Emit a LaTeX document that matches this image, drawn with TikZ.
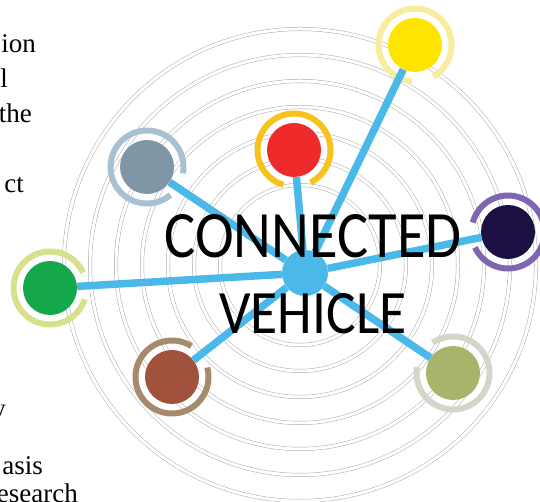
\documentclass[tikz,border=0pt]{standalone}
\usepackage{fontspec}
\usepackage{graphicx}
\setmainfont{Liberation Serif}
\newfontfamily\labelfont{Carlito}
\usetikzlibrary{positioning}
\definecolor{spokeblue}{HTML}{4AB9E9}
\definecolor{discyellow}{HTML}{FFE400}
\definecolor{haloyellow}{HTML}{F8EC9E}
\definecolor{discred}{HTML}{EE2A2B}
\definecolor{halored}{HTML}{F7C21B}
\definecolor{discgray}{HTML}{7F96A6}
\definecolor{halogray}{HTML}{A7C1D3}
\definecolor{discgreen}{HTML}{15A84A}
\definecolor{halogreen}{HTML}{D7E08B}
\definecolor{discbrown}{HTML}{A0523C}
\definecolor{halobrown}{HTML}{A68A6C}
\definecolor{discolive}{HTML}{A8B46C}
\definecolor{haloolive}{HTML}{D3D7C9}
\definecolor{discnavy}{HTML}{1C1042}
\definecolor{halonavy}{HTML}{7E66B3}
\tikzstyle{orbit} = [draw=gray!65, line width=0.5pt, double=white, double distance=3bp]
\tikzstyle{disc} = [circle, minimum size=54bp, inner sep=0pt]
\tikzstyle{halo} = [line width=6bp]
\tikzstyle{spoke} = [draw=spokeblue, line width=7.5bp]
\tikzstyle{pagetext} = [anchor=base east, inner sep=0pt, font=\fontsize{27bp}{32bp}\selectfont]
\tikzstyle{bigword} = [inner sep=0pt, font=\labelfont]

\begin{document}
\begin{tikzpicture}[x=1bp, y=1bp]
				\useasboundingbox (0,0) rectangle (540,502);
				\clip (0,0) rectangle (540,502);
				
				% orbits round the middle
				\foreach \r in {80,106,...,236}
					\draw [orbit] (300,237) circle [radius=\r bp];
				
				\node (yellow) [disc, fill=discyellow] at (415,457) {};
				\node (red) [disc, fill=discred] at (294,352) {};
				\node (gray) [disc, fill=discgray] at (147,335) {};
				\node (green) [disc, fill=discgreen] at (50,214) {};
				\node (brown) [disc, fill=discbrown] at (172,125) {};
				\node (olive) [disc, fill=discolive] at (453,129) {};
				\node (navy) [disc, fill=discnavy] at (508,270) {};
				
				% open rings round the discs
				\draw [halo, draw=haloyellow] (yellow.center) ++(300:36.5bp) arc [start angle=300, end angle=625, radius=36.5bp];
				\draw [halo, draw=halored] (red.center) ++(297:36.5bp) arc [start angle=297, end angle=613, radius=36.5bp];
				\draw [halo, draw=halogray] (gray.center) ++(-10:36.5bp) arc [start angle=-10, end angle=310, radius=36.5bp];
				\draw [halo, draw=halogreen] (green.center) ++(25:36.5bp) arc [start angle=25, end angle=342, radius=36.5bp];
				\draw [halo, draw=halobrown] (brown.center) ++(58:36.5bp) arc [start angle=58, end angle=375, radius=36.5bp];
				\draw [halo, draw=haloolive] (olive.center) ++(171:36.5bp) arc [start angle=171, end angle=484, radius=36.5bp];
				\draw [halo, draw=halonavy] (navy.center) ++(205:36.5bp) arc [start angle=205, end angle=525, radius=36.5bp];
				
				\node (hub) [circle, fill=spokeblue, minimum size=46bp, inner sep=0pt] at (305,229) {};
				
				\foreach \sat in {yellow,red,gray,green,brown,olive,navy}
					\draw [spoke] (hub) -- (\sat);
				
				\node (connected) [bigword] at (313,266) {\resizebox{297bp}{43bp}{CONNECTED}};
				\node (vehicle) [bigword] at (313,188) {\resizebox{187bp}{40bp}{VEHICLE}};
				
				% page text cut off at the left
				\node (ion) [pagetext] at (36,449) {ion};
				\node (l) [pagetext] at (8,414) {l};
				\node (the) [pagetext] at (32,379) {the};
				\node (ct) [pagetext] at (24,309) {ct};
				\node (y) [pagetext] at (6,84) {y};
				\node (asis) [pagetext] at (43,27) {asis};
				\node (esearch) [pagetext] at (78,-1) {esearch};
				
\end{tikzpicture}
\end{document}
